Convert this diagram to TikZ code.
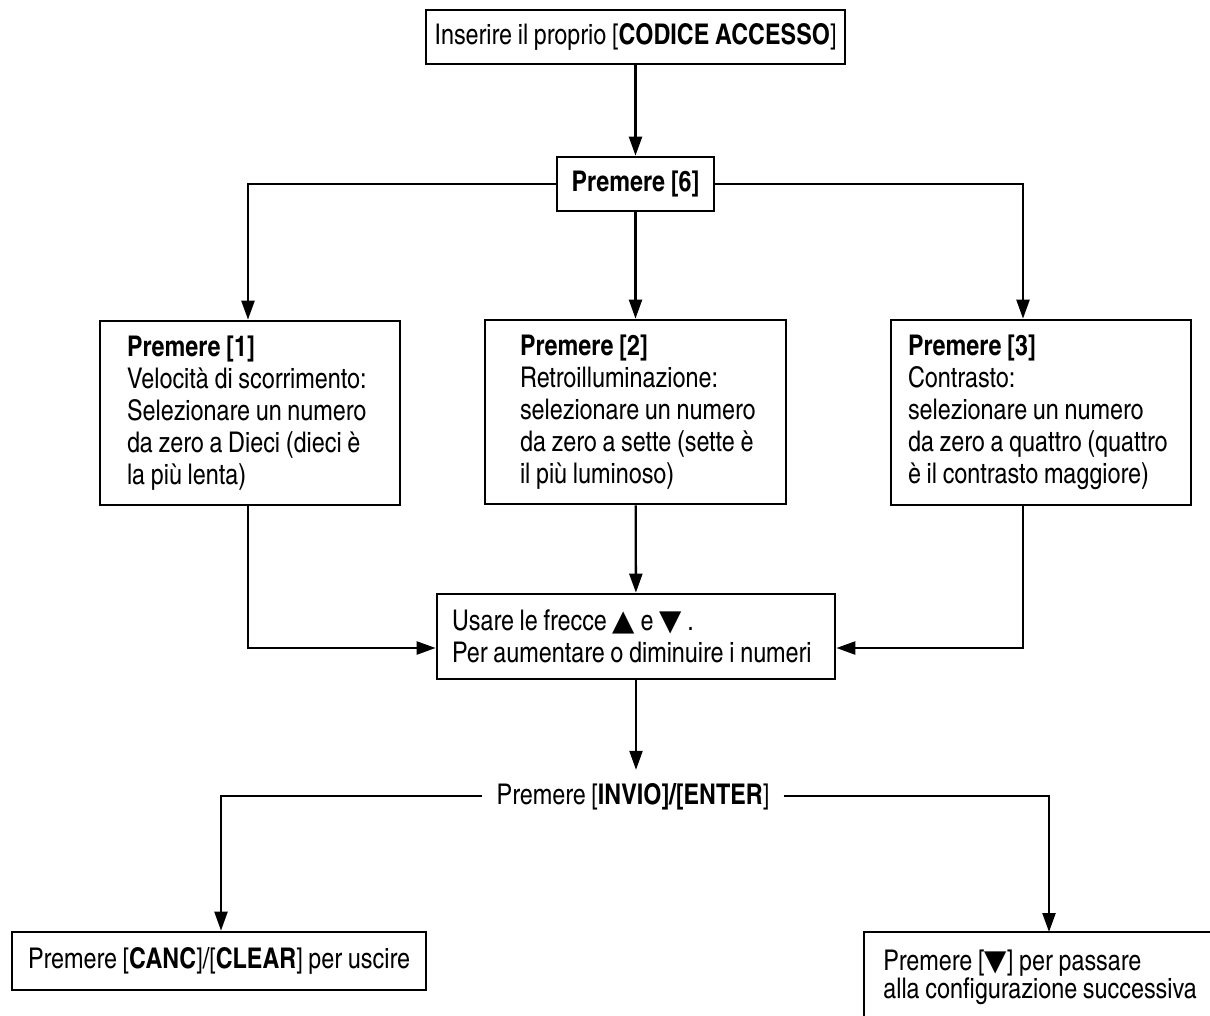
\documentclass[tikz,border=0pt]{standalone}
\usepackage{fontspec}
\setmainfont{texgyreheroscn}[Extension=.otf,UprightFont=*-regular,BoldFont=*-bold,ItalicFont=*-italic,BoldItalicFont=*-bolditalic]
\newfontfamily\symfnt{DejaVu Sans}
\usetikzlibrary{arrows.meta}
\newcommand{\tup}{{\symfnt\fontsize{29}{29}\selectfont ▲}}
\newcommand{\tdown}{{\symfnt\fontsize{29}{29}\selectfont ▼}}
\newcommand{\tightsp}{\spaceskip 0.2em plus 0.05em\relax\xspaceskip 0.2em\relax}
\newcommand{\mainfnt}{\fontsize{28.5}{32}\selectfont\tightsp}
\newcommand{\nextfnt}{\fontsize{28.5}{28}\selectfont\tightsp}
\begin{document}
\begin{tikzpicture}[x=1pt,y=-1pt,
  every node/.style={font=\mainfnt},
  box/.style={draw, line width=2.7pt, inner sep=0pt, align=left},
  boxline/.style={line width=2.7pt},
  conn/.style={line width=2.3pt, -{Triangle[length=19pt,width=13pt]}}]
\useasboundingbox (0,0) rectangle (1210,1015);
\clip (0,0) rectangle (1210,1015);
\fill[white] (0,0) rectangle (1210,1015);

\node[box, align=center, minimum width=419pt, minimum height=54pt] (top) at (635.5,37)
  {\tightsp Inserire il proprio [\textbf{CODICE ACCESSO}]};
\node[box, align=center, minimum width=157pt, minimum height=54pt] (p6) at (635.5,184)
  {\tightsp\textbf{Premere [6]}};

\node[box, minimum width=300pt, minimum height=184pt, text width=246pt] (b1) at (250,413)
  {\tightsp\mbox{\textbf{Premere [1]}}\\\mbox{Velocità di scorrimento:}\\\mbox{Selezionare un numero}\\\mbox{da zero a Dieci (dieci è}\\\mbox{la più lenta)}};
\node[box, minimum width=301pt, minimum height=184pt, text width=231pt] (b2) at (635.5,412)
  {\tightsp\mbox{\textbf{Premere [2]}}\\\mbox{Retroilluminazione:}\\\mbox{selezionare un numero}\\\mbox{da zero a sette (sette è}\\\mbox{il più luminoso)}};
\node[box, minimum width=300pt, minimum height=185pt, text width=266pt] (b3) at (1041,412.5)
  {\tightsp\mbox{\textbf{Premere [3]}}\\\mbox{Contrasto:}\\\mbox{selezionare un numero}\\\mbox{da zero a quattro (quattro}\\\mbox{è il contrasto maggiore)}};

\node[box, minimum width=398pt, minimum height=85pt, text width=368pt] (mid) at (636,636.5)
  {\tightsp\mbox{Usare le frecce \tup\ e \tdown\ .}\\\mbox{Per aumentare o diminuire i numeri}};

\node[anchor=base, inner xsep=14pt, inner ysep=13pt] (invio) at (633,804)
  {\tightsp Premere [\textbf{INVIO]/[ENTER}]};

\node[box, align=center, minimum width=414pt, minimum height=58pt] (canc) at (219,961)
  {\tightsp Premere [\textbf{CANC}]/[\textbf{CLEAR}] per uscire};

\node[box, draw=none, anchor=north west, minimum width=440pt, minimum height=88pt, text width=404pt,
  font=\nextfnt] (next) at (864,932)
  {\tightsp\mbox{Premere [\tdown] per passare}\\\mbox{alla configurazione successiva}};
\draw[boxline] (next.south west) -- (next.north west) -- (next.north east);

\draw[conn] (top) -- (p6);
\draw[conn] (p6.west) -| ([xshift=-2pt]b1.north);
\draw[conn] (p6) -- (b2);
\draw[conn] (p6.east) -| ([xshift=-18pt]b3.north);
\draw[conn] ([xshift=-2pt]b1.south) |- ([yshift=-11.5pt]mid.west);
\draw[conn] (b2) -- (mid);
\draw[conn] ([xshift=-18pt]b3.south) |- ([yshift=-11.5pt]mid.east);
\draw[conn] (mid.south) -- (mid.south |- invio.north);
\draw[conn] (invio.west) -| ([xshift=2pt]canc.north);
\draw[conn] (invio.east) -| ([xshift=185pt]next.north west);
\end{tikzpicture}
\end{document}
